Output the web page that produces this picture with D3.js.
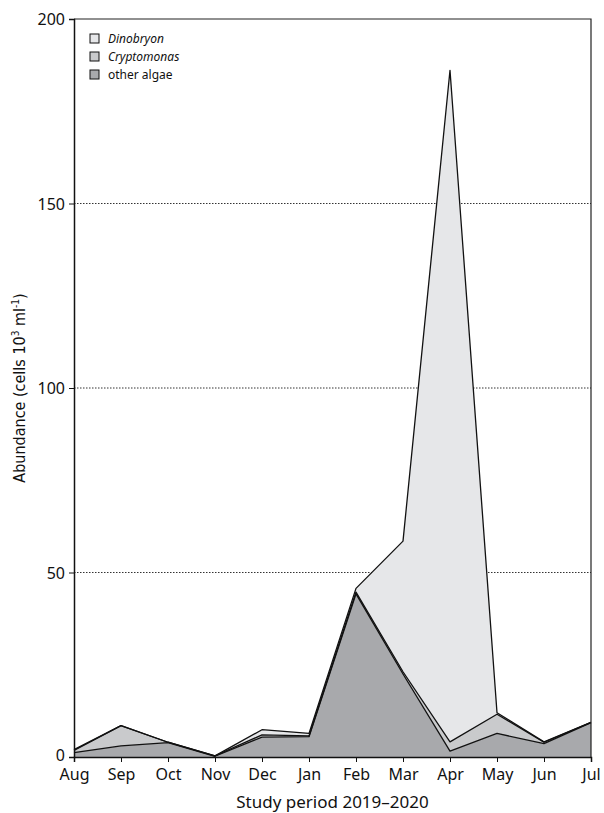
<!DOCTYPE html>
<html>
<head>
<meta charset="utf-8">
<script src="https://cdn.jsdelivr.net/npm/d3@7"></script>
<style>
  body { margin: 0; background: #fff; }
  text { font-family: "Noto Sans", "Open Sans", sans-serif; fill: #111; }
</style>
</head>
<body>
<div id="chart"></div>
<script>
// Monthly abundance, stacked (cells 10^3 ml-1)
const months = ['Aug', 'Sep', 'Oct', 'Nov', 'Dec', 'Jan', 'Feb', 'Mar', 'Apr', 'May', 'Jun', 'Jul'];
const otherAlgae = [1.2, 3.0, 3.9, 0.2, 5.4, 5.5, 44.2, 22.5, 1.6, 6.4, 3.6, 9.3];
const cryptomonas = [0.6, 5.5, 0.1, 0.1, 0.6, 0.2, 0.5, 0.6, 2.5, 5.2, 0.4, 0.1];
const dinobryon = [0.2, 0, 0, 0, 1.4, 0.7, 1.0, 35.4, 182, 0.4, 0.1, 0];
const yTicks = [0, 50, 100, 150, 200];

const seriesKeys = ['other', 'crypto', 'dino'];
const seriesNames = { dino: 'Dinobryon', crypto: 'Cryptomonas', other: 'other algae' };
const seriesColors = { dino: '#e6e7e9', crypto: '#c9cacc', other: '#a8a9ac' };

const W = 604, H = 813;
const margin = { top: 19, right: 13, bottom: 56, left: 74 };
const width = W - margin.left - margin.right;
const height = H - margin.top - margin.bottom;

const rows = months.map((m, i) => ({
    month: m,
    other: otherAlgae[i],
    crypto: cryptomonas[i],
    dino: dinobryon[i]
}));

const svg = d3.select('#chart').append('svg')
    .attr('width', W)
    .attr('height', H);

const g = svg.append('g').attr('transform', `translate(${margin.left},${margin.top})`);

const x = d3.scalePoint().domain(months).range([0, width]);
const y = d3.scaleLinear().domain([0, 200]).range([height, 0]);

// Dotted grid lines
g.selectAll('.grid')
    .data(yTicks.filter(d => d > 0 && d < 200))
    .enter().append('line')
    .attr('x1', 0).attr('x2', width)
    .attr('y1', d => y(d)).attr('y2', d => y(d))
    .attr('stroke', '#333')
    .attr('stroke-width', 1)
    .attr('stroke-dasharray', '1.5,1.5');

// Stacked areas
const stacked = d3.stack().keys(seriesKeys)(rows);

const area = d3.area()
    .x(d => x(d.data.month))
    .y0(d => y(d[0]))
    .y1(d => y(d[1]));

const line = d3.line()
    .x(d => x(d.data.month))
    .y(d => y(d[1]));

g.selectAll('.layer')
    .data(stacked)
    .enter().append('path')
    .attr('d', area)
    .attr('fill', d => seriesColors[d.key]);

g.selectAll('.layer-line')
    .data(stacked)
    .enter().append('path')
    .attr('d', line)
    .attr('fill', 'none')
    .attr('stroke', '#111')
    .attr('stroke-width', 1.3)
    .attr('stroke-linejoin', 'round');

// Frame (top and right)
g.append('path')
    .attr('d', `M0,0H${width}V${height}`)
    .attr('fill', 'none')
    .attr('stroke', '#222')
    .attr('stroke-width', 1.2);

// Axes
const yAxis = g.append('g')
    .call(d3.axisLeft(y).tickValues(yTicks).tickSize(5).tickPadding(4));
const xAxis = g.append('g')
    .attr('transform', `translate(0,${height})`)
    .call(d3.axisBottom(x).tickSize(5).tickPadding(7));

[yAxis, xAxis].forEach(a => {
    a.select('.domain').attr('stroke', '#111').attr('stroke-width', 1.5);
    a.selectAll('.tick line').attr('stroke', '#111');
    a.selectAll('text').style('font-size', '16px').attr('fill', '#111');
});
yAxis.selectAll('.tick text').attr('dy', '0.36em');
yAxis.selectAll('.tick').filter(d => d === 0).select('text').attr('dy', '0.2em');

// Axis titles
svg.append('text')
    .attr('transform', `translate(25,${margin.top + height / 2}) rotate(-90)`)
    .attr('text-anchor', 'middle')
    .style('font-family', '"DejaVu Sans Condensed", "Liberation Sans Narrow", sans-serif')
    .style('font-size', '16px')
    .html('Abundance (cells 10<tspan dy="-6" font-size="10">3</tspan><tspan dy="6"> ml</tspan><tspan dy="-6" font-size="10">-1</tspan><tspan dy="6">)</tspan>');

svg.append('text')
    .attr('x', margin.left + width / 2)
    .attr('y', 808)
    .attr('text-anchor', 'middle')
    .style('font-size', '17px')
    .text('Study period 2019–2020');

// Legend
const legend = g.append('g').attr('transform', 'translate(16,15)');
const legendItems = ['dino', 'crypto', 'other'];
legendItems.forEach((k, i) => {
    const row = legend.append('g').attr('transform', `translate(0,${i * 18})`);
    row.append('rect')
        .attr('x', 0).attr('y', 0)
        .attr('width', 9).attr('height', 9)
        .attr('fill', seriesColors[k])
        .attr('stroke', '#111')
        .attr('stroke-width', 1);
    row.append('text')
        .attr('x', 18).attr('y', 4.5)
        .attr('dy', '0.35em')
        .style('font-size', '12px')
        .style('font-style', k === 'other' ? 'normal' : 'italic')
        .text(seriesNames[k]);
});
</script>
</body>
</html>
